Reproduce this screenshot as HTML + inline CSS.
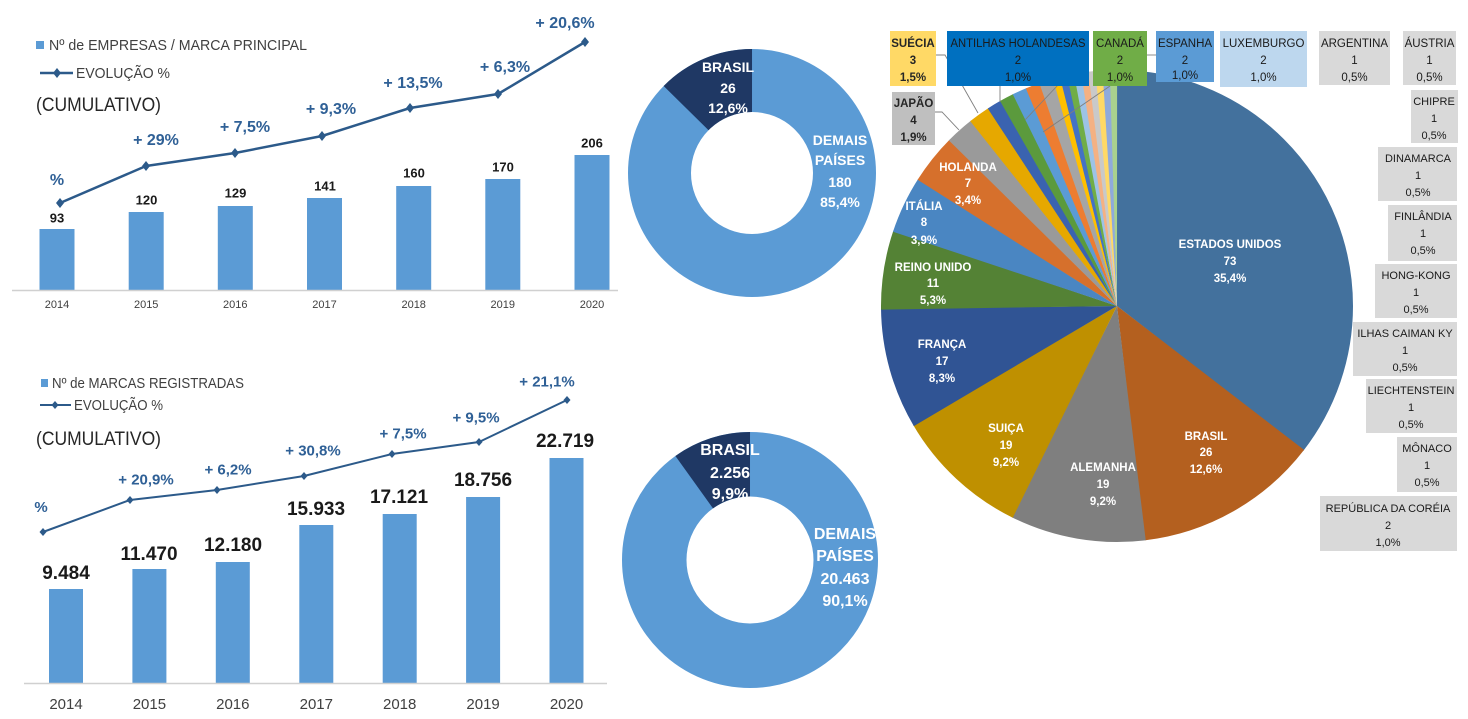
<!DOCTYPE html>
<html><head><meta charset="utf-8"><style>
html,body{margin:0;padding:0;background:#fff;}
body{width:1468px;height:719px;overflow:hidden;}
svg{display:block;font-family:"Liberation Sans",sans-serif;}
</style></head><body>
<svg width="1468" height="719" viewBox="0 0 1468 719" xmlns="http://www.w3.org/2000/svg">
<rect width="1468" height="719" fill="#fff"/>

<!-- ================= TOP LEFT CHART ================= -->
<rect x="36" y="41" width="8" height="8" fill="#5B9BD5"/>
<text x="49" y="50" font-size="15" fill="#404040" textLength="258" lengthAdjust="spacingAndGlyphs">Nº de EMPRESAS / MARCA PRINCIPAL</text>
<line x1="40" y1="73" x2="73" y2="73" stroke="#2C5A8A" stroke-width="2.5"/>
<polygon points="57,68 61,73 57,78 53,73" fill="#2C5A8A"/>
<text x="76" y="78" font-size="15" fill="#404040" textLength="94" lengthAdjust="spacingAndGlyphs">EVOLUÇÃO %</text>
<text x="36" y="111" font-size="19" fill="#262626" textLength="125" lengthAdjust="spacingAndGlyphs">(CUMULATIVO)</text>

<g fill="#5B9BD5">
<rect x="39.5" y="229" width="35" height="61"/>
<rect x="128.7" y="212" width="35" height="78"/>
<rect x="217.8" y="206" width="35" height="84"/>
<rect x="307" y="198" width="35" height="92"/>
<rect x="396.2" y="186" width="35" height="104"/>
<rect x="485.3" y="179" width="35" height="111"/>
<rect x="574.5" y="155" width="35" height="135"/>
</g>
<line x1="12" y1="290.5" x2="618" y2="290.5" stroke="#D0D0D0" stroke-width="1.5"/>
<g font-size="13" font-weight="bold" fill="#1a1a1a" text-anchor="middle">
<text x="57" y="222.5">93</text>
<text x="146.5" y="204.5">120</text>
<text x="235.5" y="197.5">129</text>
<text x="325" y="190.5">141</text>
<text x="414" y="177.5">160</text>
<text x="503" y="171.5">170</text>
<text x="592" y="147.5">206</text>
</g>
<g font-size="11" fill="#404040" text-anchor="middle">
<text x="57" y="308">2014</text>
<text x="146.2" y="308">2015</text>
<text x="235.3" y="308">2016</text>
<text x="324.5" y="308">2017</text>
<text x="413.7" y="308">2018</text>
<text x="502.8" y="308">2019</text>
<text x="592" y="308">2020</text>
</g>
<polyline points="60,203 146,166 235,153 322,136 410,108 498,94 585,42" fill="none" stroke="#2C5A8A" stroke-width="2.5" stroke-linejoin="round"/>
<g fill="#2C5A8A">
<polygon points="60,198 64,203 60,208 56,203"/>
<polygon points="146,161 150,166 146,171 142,166"/>
<polygon points="235,148 239,153 235,158 231,153"/>
<polygon points="322,131 326,136 322,141 318,136"/>
<polygon points="410,103 414,108 410,113 406,108"/>
<polygon points="498,89 502,94 498,99 494,94"/>
<polygon points="585,37 589,42 585,47 581,42"/>
</g>
<g font-size="16" font-weight="bold" fill="#2F6096" text-anchor="middle">
<text x="57" y="185">%</text>
<text x="156" y="145">+ 29%</text>
<text x="245" y="132">+ 7,5%</text>
<text x="331" y="114">+ 9,3%</text>
<text x="413" y="88">+ 13,5%</text>
<text x="505" y="72">+ 6,3%</text>
<text x="565" y="28">+ 20,6%</text>
</g>

<!-- ================= BOTTOM LEFT CHART ================= -->
<rect x="41" y="379" width="7" height="8" fill="#5B9BD5"/>
<text x="52" y="388" font-size="14.5" fill="#404040" textLength="192" lengthAdjust="spacingAndGlyphs">Nº de MARCAS REGISTRADAS</text>
<line x1="40" y1="405" x2="71" y2="405" stroke="#2C5A8A" stroke-width="2"/>
<polygon points="55,401 58.5,405 55,409 51.5,405" fill="#2C5A8A"/>
<text x="74" y="410" font-size="14.5" fill="#404040" textLength="89" lengthAdjust="spacingAndGlyphs">EVOLUÇÃO %</text>
<text x="36" y="445" font-size="19" fill="#262626" textLength="125" lengthAdjust="spacingAndGlyphs">(CUMULATIVO)</text>

<g fill="#5B9BD5">
<rect x="49" y="589" width="34" height="94"/>
<rect x="132.4" y="569" width="34" height="114"/>
<rect x="215.8" y="562" width="34" height="121"/>
<rect x="299.3" y="525" width="34" height="158"/>
<rect x="382.7" y="514" width="34" height="169"/>
<rect x="466.1" y="497" width="34" height="186"/>
<rect x="549.5" y="458" width="34" height="225"/>
</g>
<line x1="24" y1="683.5" x2="607" y2="683.5" stroke="#D0D0D0" stroke-width="1.5"/>
<g font-size="19" font-weight="bold" fill="#1a1a1a" text-anchor="middle">
<text x="66" y="579">9.484</text>
<text x="149" y="560">11.470</text>
<text x="233" y="551">12.180</text>
<text x="316" y="515">15.933</text>
<text x="399" y="503">17.121</text>
<text x="483" y="486">18.756</text>
<text x="565" y="447">22.719</text>
</g>
<g font-size="15" fill="#404040" text-anchor="middle">
<text x="66" y="709">2014</text>
<text x="149.4" y="709">2015</text>
<text x="232.8" y="709">2016</text>
<text x="316.3" y="709">2017</text>
<text x="399.7" y="709">2018</text>
<text x="483.1" y="709">2019</text>
<text x="566.5" y="709">2020</text>
</g>
<polyline points="43,532 130,500 217,490 304,476 392,454 479,442 567,400" fill="none" stroke="#2C5A8A" stroke-width="2" stroke-linejoin="round"/>
<g fill="#2C5A8A">
<polygon points="43,528 46.5,532 43,536 39.5,532"/>
<polygon points="130,496 133.5,500 130,504 126.5,500"/>
<polygon points="217,486 220.5,490 217,494 213.5,490"/>
<polygon points="304,472 307.5,476 304,480 300.5,476"/>
<polygon points="392,450 395.5,454 392,458 388.5,454"/>
<polygon points="479,438 482.5,442 479,446 475.5,442"/>
<polygon points="567,396 570.5,400 567,404 563.5,400"/>
</g>
<g font-size="15" font-weight="bold" fill="#2F6096" text-anchor="middle">
<text x="41" y="512">%</text>
<text x="146" y="484.5">+ 20,9%</text>
<text x="228" y="474.5">+ 6,2%</text>
<text x="313" y="455.5">+ 30,8%</text>
<text x="403" y="438.5">+ 7,5%</text>
<text x="476" y="422.5">+ 9,5%</text>
<text x="547" y="386.5">+ 21,1%</text>
</g>

<!-- ================= DONUT 1 ================= -->
<circle cx="752" cy="173" r="92.5" fill="none" stroke="#5B9BD5" stroke-width="63"/>
<circle cx="752" cy="173" r="92.5" fill="none" stroke="#1F3864" stroke-width="63" stroke-dasharray="73.35 600" transform="rotate(224.56 752 173)"/>
<g font-size="14" font-weight="bold" fill="#fff" text-anchor="middle">
<text x="728" y="72">BRASIL</text>
<text x="728" y="93">26</text>
<text x="728" y="113">12,6%</text>
<text x="840" y="145">DEMAIS</text>
<text x="840" y="165">PAÍSES</text>
<text x="840" y="187">180</text>
<text x="840" y="207">85,4%</text>
</g>

<!-- ================= DONUT 2 ================= -->
<circle cx="750" cy="560" r="95.75" fill="none" stroke="#5B9BD5" stroke-width="64.5"/>
<circle cx="750" cy="560" r="95.75" fill="none" stroke="#1F3864" stroke-width="64.5" stroke-dasharray="59.56 700" transform="rotate(234.36 750 560)"/>
<g font-size="16" font-weight="bold" fill="#fff" text-anchor="middle">
<text x="730" y="455">BRASIL</text>
<text x="730" y="478">2.256</text>
<text x="730" y="499">9,9%</text>
<text x="845" y="539">DEMAIS</text>
<text x="845" y="561">PAÍSES</text>
<text x="845" y="584">20.463</text>
<text x="845" y="606">90,1%</text>
</g>

<!-- ================= PIE ================= -->
<g fill="none" stroke-width="236">
<circle cx="1117" cy="306" r="118" stroke="#43719D" stroke-dasharray="263.3 1000" transform="rotate(-90 1117 306)"/>
<circle cx="1117" cy="306" r="118" stroke="#B4601F" stroke-dasharray="94.1 1000" transform="rotate(37.57 1117 306)"/>
<circle cx="1117" cy="306" r="118" stroke="#7F7F7F" stroke-dasharray="68.9 1000" transform="rotate(83.01 1117 306)"/>
<circle cx="1117" cy="306" r="118" stroke="#BF9000" stroke-dasharray="68.9 1000" transform="rotate(116.21 1117 306)"/>
<circle cx="1117" cy="306" r="118" stroke="#305494" stroke-dasharray="61.7 1000" transform="rotate(149.42 1117 306)"/>
<circle cx="1117" cy="306" r="118" stroke="#548235" stroke-dasharray="40.1 1000" transform="rotate(179.13 1117 306)"/>
<circle cx="1117" cy="306" r="118" stroke="#4A86C2" stroke-dasharray="29.3 1000" transform="rotate(198.35 1117 306)"/>
<circle cx="1117" cy="306" r="118" stroke="#D6702C" stroke-dasharray="25.7 1000" transform="rotate(212.33 1117 306)"/>
<circle cx="1117" cy="306" r="118" stroke="#9A9A9A" stroke-dasharray="14.9 1000" transform="rotate(224.56 1117 306)"/>
<circle cx="1117" cy="306" r="118" stroke="#E6A800" stroke-dasharray="11.3 1000" transform="rotate(231.55 1117 306)"/>
<circle cx="1117" cy="306" r="118" stroke="#3A63B0" stroke-dasharray="7.7 1000" transform="rotate(236.80 1117 306)"/>
<circle cx="1117" cy="306" r="118" stroke="#5B9A3D" stroke-dasharray="7.7 1000" transform="rotate(240.29 1117 306)"/>
<circle cx="1117" cy="306" r="118" stroke="#5B9BD5" stroke-dasharray="7.7 1000" transform="rotate(243.79 1117 306)"/>
<circle cx="1117" cy="306" r="118" stroke="#ED7D31" stroke-dasharray="7.7 1000" transform="rotate(247.28 1117 306)"/>
<circle cx="1117" cy="306" r="118" stroke="#A5A5A5" stroke-dasharray="7.7 1000" transform="rotate(250.78 1117 306)"/>
<circle cx="1117" cy="306" r="118" stroke="#FFC000" stroke-dasharray="4.1 1000" transform="rotate(254.27 1117 306)"/>
<circle cx="1117" cy="306" r="118" stroke="#4472C4" stroke-dasharray="4.1 1000" transform="rotate(256.02 1117 306)"/>
<circle cx="1117" cy="306" r="118" stroke="#70AD47" stroke-dasharray="4.1 1000" transform="rotate(257.77 1117 306)"/>
<circle cx="1117" cy="306" r="118" stroke="#9DC3E6" stroke-dasharray="4.1 1000" transform="rotate(259.51 1117 306)"/>
<circle cx="1117" cy="306" r="118" stroke="#F4B183" stroke-dasharray="4.1 1000" transform="rotate(261.26 1117 306)"/>
<circle cx="1117" cy="306" r="118" stroke="#C9C9C9" stroke-dasharray="4.1 1000" transform="rotate(263.01 1117 306)"/>
<circle cx="1117" cy="306" r="118" stroke="#FFD966" stroke-dasharray="4.1 1000" transform="rotate(264.76 1117 306)"/>
<circle cx="1117" cy="306" r="118" stroke="#8FAADC" stroke-dasharray="4.1 1000" transform="rotate(266.50 1117 306)"/>
<circle cx="1117" cy="306" r="118" stroke="#A9D18E" stroke-dasharray="3.7 1000" transform="rotate(268.25 1117 306)"/>
</g>

<!-- leader lines -->
<g stroke="#7F7F7F" stroke-width="0.9" fill="none">
<polyline points="935,112 942,112 959,130"/>
<polyline points="936,55 945,55 978,113"/>
<line x1="1000" y1="86" x2="1000" y2="102"/>
<line x1="1058" y1="85" x2="1025" y2="120"/>
<line x1="1110" y1="86" x2="1043" y2="132"/>
<line x1="1147" y1="55" x2="1156" y2="55"/>
</g>

<!-- pie inner labels -->
<g font-size="11.5" font-weight="bold" fill="#fff" text-anchor="middle">
<text x="1230" y="248">ESTADOS UNIDOS</text><text x="1230" y="265">73</text><text x="1230" y="282">35,4%</text>
<text x="1206" y="440">BRASIL</text><text x="1206" y="456">26</text><text x="1206" y="473">12,6%</text>
<text x="1103" y="471">ALEMANHA</text><text x="1103" y="488">19</text><text x="1103" y="505">9,2%</text>
<text x="1006" y="432">SUIÇA</text><text x="1006" y="449">19</text><text x="1006" y="466">9,2%</text>
<text x="942" y="348">FRANÇA</text><text x="942" y="365">17</text><text x="942" y="382">8,3%</text>
<text x="933" y="271">REINO UNIDO</text><text x="933" y="287">11</text><text x="933" y="304">5,3%</text>
<text x="924" y="210">ITÁLIA</text><text x="924" y="226">8</text><text x="924" y="244">3,9%</text>
<text x="968" y="171">HOLANDA</text><text x="968" y="187">7</text><text x="968" y="204">3,4%</text>
</g>

<!-- Japão box -->
<rect x="892" y="92" width="43" height="53" fill="#BFBFBF"/>
<g font-size="11.5" font-weight="bold" fill="#262626" text-anchor="middle">
<text x="913.5" y="107">JAPÃO</text><text x="913.5" y="124">4</text><text x="913.5" y="141">1,9%</text>
</g>

<!-- top boxes -->
<rect x="890" y="31" width="46" height="55" fill="#FFD966"/>
<rect x="947" y="31" width="142" height="55" fill="#0070C0"/>
<rect x="1093" y="31" width="54" height="55" fill="#70AD47"/>
<rect x="1156" y="31" width="58" height="51" fill="#5B9BD5"/>
<rect x="1220" y="31" width="87" height="56" fill="#BDD7EE"/>
<rect x="1319" y="31" width="71" height="54" fill="#D9D9D9"/>
<rect x="1403" y="31" width="53" height="54" fill="#D9D9D9"/>
<g font-size="11.5" font-weight="bold" fill="#262626" text-anchor="middle">
<text x="913" y="47">SUÉCIA</text><text x="913" y="64">3</text><text x="913" y="81">1,5%</text>
</g>
<g font-size="11.5" fill="#1a1a1a" text-anchor="middle">
<text x="1018" y="47" textLength="135" lengthAdjust="spacingAndGlyphs">ANTILHAS HOLANDESAS</text><text x="1018" y="64">2</text><text x="1018" y="81">1,0%</text>
<text x="1120" y="47">CANADÁ</text><text x="1120" y="64">2</text><text x="1120" y="81">1,0%</text>
<text x="1185" y="47">ESPANHA</text><text x="1185" y="64">2</text><text x="1185" y="79">1,0%</text>
<text x="1263.5" y="47">LUXEMBURGO</text><text x="1263.5" y="64">2</text><text x="1263.5" y="81">1,0%</text>
<text x="1354.5" y="47">ARGENTINA</text><text x="1354.5" y="64">1</text><text x="1354.5" y="81">0,5%</text>
<text x="1429.5" y="47">ÁUSTRIA</text><text x="1429.5" y="64">1</text><text x="1429.5" y="81">0,5%</text>
</g>

<!-- right boxes -->
<g fill="#D9D9D9">
<rect x="1411" y="90" width="47" height="53"/>
<rect x="1378" y="147" width="79" height="54"/>
<rect x="1388" y="205" width="69" height="56"/>
<rect x="1375" y="264" width="82" height="54"/>
<rect x="1353" y="322" width="104" height="54"/>
<rect x="1366" y="379" width="91" height="54"/>
<rect x="1397" y="437" width="60" height="55"/>
<rect x="1320" y="496" width="137" height="55"/>
</g>
<g font-size="11" fill="#1a1a1a" text-anchor="middle">
<text x="1434" y="105">CHIPRE</text><text x="1434" y="122">1</text><text x="1434" y="139">0,5%</text>
<text x="1418" y="162">DINAMARCA</text><text x="1418" y="179">1</text><text x="1418" y="196">0,5%</text>
<text x="1423" y="220">FINLÂNDIA</text><text x="1423" y="237">1</text><text x="1423" y="254">0,5%</text>
<text x="1416" y="279">HONG-KONG</text><text x="1416" y="296">1</text><text x="1416" y="313">0,5%</text>
<text x="1405" y="337">ILHAS CAIMAN  KY</text><text x="1405" y="354">1</text><text x="1405" y="371">0,5%</text>
<text x="1411" y="394">LIECHTENSTEIN</text><text x="1411" y="411">1</text><text x="1411" y="428">0,5%</text>
<text x="1427" y="452">MÔNACO</text><text x="1427" y="469">1</text><text x="1427" y="486">0,5%</text>
<text x="1388" y="512">REPÚBLICA DA CORÉIA</text><text x="1388" y="529">2</text><text x="1388" y="546">1,0%</text>
</g>
</svg>
</body></html>
